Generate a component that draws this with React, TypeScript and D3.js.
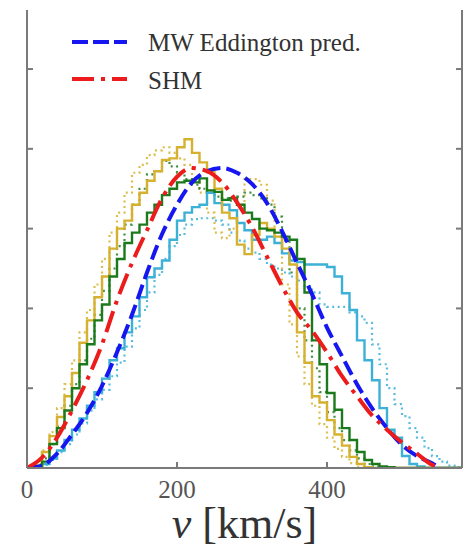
import React from 'react';
import * as d3 from 'd3';

// speed grid for the two model curves (km/s) and pdf values in units of 1e-3 s/km
const modelSpeeds = [0, 20, 40, 60, 80, 100, 120, 140, 160, 180, 200, 220, 240, 260, 280, 300, 320, 340, 360, 380, 400, 420, 440, 460, 480, 500, 520, 540, 550];
const shmPdf = [0, 0.13, 0.38, 0.72, 1.1, 1.55, 2.1, 2.57, 2.98, 3.38, 3.65, 3.76, 3.72, 3.58, 3.33, 3.02, 2.65, 2.28, 1.95, 1.72, 1.45, 1.15, 0.9, 0.66, 0.48, 0.32, 0.18, 0.04, 0];
const eddingtonPdf = [0, 0.03, 0.18, 0.42, 0.69, 1.03, 1.45, 1.92, 2.45, 2.93, 3.3, 3.58, 3.72, 3.76, 3.7, 3.56, 3.32, 2.97, 2.57, 2.18, 1.76, 1.4, 1.05, 0.75, 0.5, 0.29, 0.15, 0.06, 0];

// simulation histograms, 10 km/s bins starting at 0
const binWidth = 10;
const goldHist = [0, 0.03, 0.2, 0.4, 0.64, 0.9, 1.19, 1.57, 1.85, 2.14, 2.4, 2.75, 3.0, 3.1, 3.3, 3.45, 3.6, 3.72, 3.86, 3.88, 4.02, 4.12, 3.95, 3.83, 3.71, 3.5, 3.2, 3.13, 2.8, 2.68, 2.92, 3.07, 3.0, 2.9, 2.75, 2.55, 1.7, 1.32, 0.9, 0.82, 0.6, 0.42, 0.28, 0.14, 0.05, 0.01, 0, 0, 0, 0, 0, 0, 0, 0, 0, 0, 0, 0];
const greenHist = [0, 0.02, 0.08, 0.3, 0.5, 0.72, 1.0, 1.3, 1.55, 1.85, 2.05, 2.4, 2.62, 2.82, 2.95, 3.05, 3.2, 3.3, 3.42, 3.5, 3.58, 3.6, 3.58, 3.63, 3.48, 3.46, 3.36, 3.38, 3.3, 3.2, 3.12, 3.0, 2.98, 2.95, 2.9, 2.86, 2.62, 2.2, 1.6, 1.3, 0.94, 0.73, 0.5, 0.35, 0.2, 0.1, 0.05, 0.02, 0.01, 0, 0, 0, 0, 0, 0, 0, 0, 0];
const cyanHist = [0, 0.01, 0.05, 0.12, 0.22, 0.35, 0.48, 0.62, 0.78, 0.95, 1.12, 1.35, 1.5, 1.7, 1.9, 2.14, 2.39, 2.5, 2.6, 2.86, 3.1, 3.2, 3.27, 3.3, 3.45, 3.32, 3.3, 3.23, 3.07, 2.98, 2.86, 2.86, 2.9, 2.82, 2.69, 2.6, 2.58, 2.55, 2.55, 2.55, 2.52, 2.4, 2.19, 1.98, 1.6, 1.35, 1.1, 0.75, 0.48, 0.38, 0.15, 0.05, 0.02, 0, 0, 0, 0, 0];
const goldDotted = [0, 0.05, 0.22, 0.45, 0.75, 1.05, 1.35, 1.7, 1.98, 2.3, 2.62, 2.95, 3.2, 3.45, 3.7, 3.8, 3.92, 3.98, 4.02, 3.95, 3.88, 3.8, 3.6, 3.45, 3.2, 2.95, 2.88, 3.0, 3.3, 3.62, 3.62, 3.55, 3.35, 2.9, 2.3, 1.8, 1.4, 1.05, 0.78, 0.55, 0.38, 0.24, 0.14, 0.06, 0.01, 0, 0, 0, 0, 0, 0, 0, 0, 0, 0, 0, 0, 0];
const greenDotted = [0, 0.03, 0.12, 0.3, 0.52, 0.78, 1.05, 1.35, 1.62, 1.92, 2.22, 2.5, 2.78, 3.05, 3.3, 3.5, 3.68, 3.72, 3.85, 3.78, 3.7, 3.62, 3.55, 3.5, 3.45, 3.4, 3.38, 3.35, 3.4, 3.45, 3.42, 3.38, 3.3, 3.15, 2.85, 2.45, 2.0, 1.6, 1.25, 0.95, 0.7, 0.5, 0.35, 0.22, 0.12, 0.05, 0.02, 0, 0, 0, 0, 0, 0, 0, 0, 0, 0, 0];
const cyanDotted = [0, 0.01, 0.04, 0.1, 0.2, 0.3, 0.42, 0.56, 0.72, 0.86, 0.98, 1.15, 1.32, 1.52, 1.75, 1.98, 2.2, 2.42, 2.62, 2.78, 2.92, 3.05, 3.12, 3.13, 3.13, 3.1, 3.05, 2.95, 2.85, 2.75, 2.7, 2.62, 2.55, 2.5, 2.45, 2.4, 2.35, 2.28, 2.2, 2.05, 2.02, 2.02, 2.02, 1.95, 1.9, 1.82, 1.55, 1.3, 1.0, 0.8, 0.65, 0.5, 0.38, 0.25, 0.15, 0.08, 0.03, 0.01];

const xTicks = [0, 200, 400];
const yTicks = [0, 1, 2, 3, 4, 5];
const legendLabels = ['MW Eddington pred.', 'SHM'];

const GOLD = '#d6b12f';
const GREEN = '#1c7a1c';
const CYAN = '#3cb0d6';
const BLUE = '#1616f0';
const RED = '#ec1c1c';
const AXIS = '#7a7a7a';

const W = 465;
const H = 555;
const left = 27;
const right = 462;
const top = 10;
const bottom = 468;

const css = `svg.vdist text { font-family: 'Liberation Serif' !important; }`;

export default function App() {
  const x = d3.scaleLinear().domain([0, 580]).range([left, right]);
  const y = d3.scaleLinear().domain([0, 5.74]).range([bottom, top]);

  const stepLine = d3.line<[number, number]>()
    .x(d => x(d[0]))
    .y(d => y(d[1]))
    .curve(d3.curveStepAfter);

  const smoothLine = d3.line<[number, number]>()
    .x(d => x(d[0]))
    .y(d => y(d[1]))
    .curve(d3.curveMonotoneX);

  const histPath = (vals: number[]) => {
    const pts: [number, number][] = vals.map((u, i) => [i * binWidth, u]);
    pts.push([vals.length * binWidth, vals[vals.length - 1]]);
    return stepLine(pts) || '';
  };

  const modelPath = (vals: number[]) =>
    smoothLine(modelSpeeds.map((v, i) => [v, vals[i]] as [number, number])) || '';

  const hists = [
    { vals: cyanDotted, color: CYAN, dotted: true },
    { vals: goldDotted, color: GOLD, dotted: true },
    { vals: greenDotted, color: GREEN, dotted: true },
    { vals: cyanHist, color: CYAN, dotted: false },
    { vals: goldHist, color: GOLD, dotted: false },
    { vals: greenHist, color: GREEN, dotted: false },
  ];

  const blueDash = '15,6';
  const redDash = '22,7,4,7';

  return (
    <svg className="vdist" width={W} height={H} style={{ position: 'absolute', left: 0, top: 0 }}>
      <style>{css}</style>
      <rect width={W} height={H} fill="#fff" />
      <defs>
        <clipPath id="plot">
          <rect x={left} y={top} width={right - left} height={bottom - top} />
        </clipPath>
      </defs>

      <g clipPath="url(#plot)" fill="none">
        {hists.map((h, i) => (
          <path
            key={i}
            d={histPath(h.vals)}
            stroke={h.color}
            strokeWidth={h.dotted ? 2.2 : 2.4}
            strokeDasharray={h.dotted ? '2,3.5' : undefined}
            opacity={h.dotted ? 0.85 : 1}
          />
        ))}
        <path d={modelPath(eddingtonPdf)} stroke={BLUE} strokeWidth={4} strokeDasharray={blueDash} />
        <path d={modelPath(shmPdf)} stroke={RED} strokeWidth={4} strokeDasharray={redDash} />
      </g>

      {/* spines */}
      <g stroke={AXIS} strokeWidth={2}>
        <line x1={left} x2={left} y1={top} y2={bottom} />
        <line x1={right} x2={right} y1={top} y2={bottom} />
        <line x1={left} x2={right} y1={bottom} y2={bottom} />
        {yTicks.slice(1).map(t => (
          <g key={t}>
            <line x1={left} x2={left + 6} y1={y(t)} y2={y(t)} />
            <line x1={right - 6} x2={right} y1={y(t)} y2={y(t)} />
          </g>
        ))}
        {xTicks.slice(1).map(t => (
          <line key={t} x1={x(t)} x2={x(t)} y1={bottom} y2={bottom - 6} />
        ))}
      </g>

      {xTicks.map(t => (
        <text key={t} x={x(t)} y={498} textAnchor="middle" fontSize={25} fill="#555" fontFamily="Liberation Serif">
          {t}
        </text>
      ))}

      <text x={(left + right) / 2} y={538} textAnchor="middle" fontSize={44} fill="#333" fontFamily="Liberation Serif">
        <tspan fontStyle="italic">v</tspan> [km/s]
      </text>

      {/* legend */}
      <line x1={72} x2={127} y1={42} y2={42} stroke={BLUE} strokeWidth={4} strokeDasharray="16,5" />
      <text x={148} y={51} fontSize={25} fill="#333" fontFamily="Liberation Serif">{legendLabels[0]}</text>
      <line x1={72} x2={127} y1={79} y2={79} stroke={RED} strokeWidth={4} strokeDasharray={redDash} />
      <text x={148} y={89} fontSize={25} fill="#333" fontFamily="Liberation Serif">{legendLabels[1]}</text>
    </svg>
  );
}
